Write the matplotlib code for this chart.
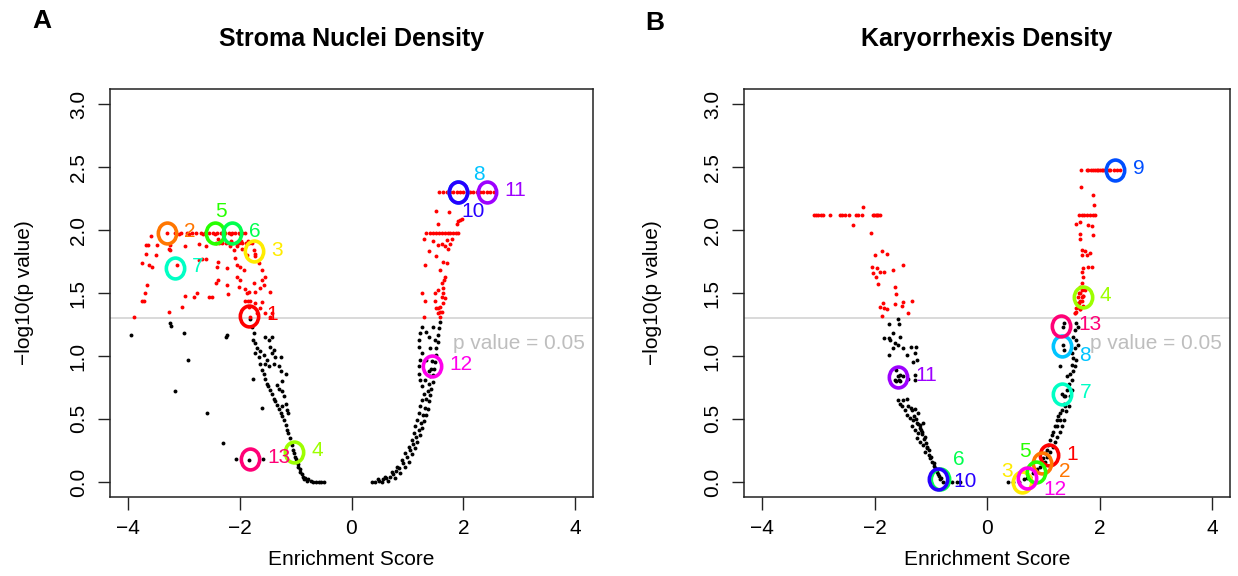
import numpy as np
import matplotlib
matplotlib.use("Agg")
import matplotlib.pyplot as plt
from matplotlib.path import Path
from matplotlib.transforms import Affine2D

plt.rcParams['font.family'] = ['Liberation Sans', 'DejaVu Sans']

# ---------------- DATA (enrichment score, -log10 p) ----------------
# Panel A: Stroma Nuclei Density
A_neg_sig = [(-3.59,1.95),(-3.68,1.88),(-3.64,1.88),(-3.48,1.88),(-3.25,1.88),(-3.67,1.81),(-3.49,1.80),
    (-3.27,1.85),(-3.24,1.84),(-3.74,1.74),(-3.63,1.72),(-3.57,1.71),(-3.12,1.72),(-2.73,1.76),(-2.67,1.77),
    (-2.61,1.77),(-2.38,1.75),(-2.41,1.71),(-2.23,1.70),(-2.08,1.78),(-2.05,1.72),(-1.99,1.71),(-1.66,1.74),
    (-1.60,1.68),(-1.72,1.79),(-1.87,1.80),(-1.93,1.68),(-3.66,1.56),(-3.70,1.50),(-3.75,1.44),(-3.71,1.44),
    (-3.26,1.35),(-3.03,1.39),(-2.97,1.48),(-2.82,1.47),(-2.76,1.50),(-2.55,1.47),(-2.49,1.47),(-2.43,1.58),
    (-2.38,1.60),(-2.21,1.49),(-2.23,1.56),(-2.05,1.63),(-1.99,1.60),(-2.02,1.55),(-1.91,1.53),(-1.87,1.50),
    (-1.84,1.51),(-1.75,1.58),(-1.72,1.51),(-1.63,1.54),(-1.60,1.60),(-1.57,1.56),(-1.54,1.63),(-1.45,1.51),
    (-1.90,1.44),(-1.85,1.44),(-1.81,1.44),(-1.72,1.42),(-1.63,1.38),(-1.60,1.43),(-1.84,1.39),(-1.69,1.34),
    (-1.54,1.34),(-1.45,1.31),(-1.42,1.34),(-3.89,1.31),(-2.17,1.87),(-2.11,1.84),(-2.05,1.87),(-1.96,1.85),
    (-2.38,1.93),(-2.73,1.89),(-2.61,1.87),(-3.09,1.97),(-2.97,1.87),(-3.30,1.98),(-1.74,1.84),(-1.72,1.81),
    (-1.81,1.31),
    (-3.15,1.98),(-3.05,1.98),(-2.95,1.98),(-2.85,1.98),(-2.78,1.98),(-2.70,1.98),(-2.62,1.98),(-2.55,1.98),
    (-2.48,1.98),(-2.40,1.98),(-2.33,1.98),(-2.26,1.98),(-2.20,1.98),(-2.14,1.98),(-2.08,1.98),(-2.02,1.98),
    (-1.96,1.98),(-1.90,1.98),(-2.90,1.97),(-2.65,1.97),(-2.45,1.97),(-2.30,1.97),(-2.15,1.97),(-2.00,1.97),
    (-2.43,1.90),(-2.37,1.90),(-2.31,1.90),(-2.25,1.90),(-2.19,1.90),(-2.13,1.90),(-2.07,1.90),(-2.01,1.90),
    (-1.95,1.90),(-1.89,1.90),(-1.83,1.90),(-1.78,1.90),(-2.34,1.91),(-2.16,1.91),(-1.98,1.91),(-1.86,1.91)]
A_neg_ns = [(-3.95,1.17),(-3.24,1.26),(-3.23,1.24),(-3.00,1.18),(-2.92,0.97),(-3.15,0.72),(-2.59,0.55),
    (-2.30,0.31),(-2.24,1.15),(-2.23,1.17),(-1.77,0.82),(-1.60,0.59),(-2.06,0.18),(-1.84,0.17),(-1.59,0.18),
    (-1.81,1.29),(-1.78,1.23),(-1.75,1.18),(-1.77,1.13),(-1.72,1.10),(-1.69,1.06),(-1.72,1.02),(-1.66,0.99),
    (-1.63,0.94),(-1.60,0.89),(-1.57,0.86),(-1.54,0.82),(-1.51,0.78),(-1.49,0.76),(-1.45,0.73),(-1.42,0.70),
    (-1.39,0.66),(-1.36,0.64),(-1.33,0.61),(-1.30,0.58),(-1.27,0.55),(-1.24,0.52),(-1.21,0.49),(-1.18,0.45),
    (-1.16,0.41),(-1.13,0.39),(-1.10,0.35),(-1.07,0.29),(-1.04,0.25),(-1.01,0.20),(-0.98,0.16),(-0.95,0.12),
    (-0.92,0.08),(-0.89,0.06),(-0.83,0.03),(-0.77,0.02),(-0.68,0.00),(-0.59,0.00),(-0.50,0.00),
    (-1.54,1.15),(-1.48,1.13),(-1.42,1.15),(-1.45,1.07),(-1.39,1.05),(-1.42,1.02),(-1.36,0.99),(-1.27,0.99),
    (-1.39,0.94),(-1.30,0.92),(-1.27,0.88),(-1.18,0.86),(-1.24,0.80),(-1.33,0.77),(-1.30,0.74),(-1.24,0.72),
    (-1.21,0.68),(-1.18,0.62),(-1.16,0.57),(-1.13,0.55),(-1.24,0.60),(-1.48,0.92),(-1.54,0.94),(-1.63,1.04),
    (-1.57,1.01),(-1.51,0.97),(-0.86,0.04),(-0.80,0.01),(-0.72,0.01),(-0.64,0.00),(-0.55,0.00),(-0.85,0.02),
    (-0.93,0.10),(-0.96,0.14),(-0.99,0.18),(-1.03,0.23)]
A_pos_sig = [(1.57,2.30),(1.64,2.30),(1.70,2.30),(1.76,2.30),(1.82,2.30),(1.88,2.30),(1.94,2.30),(2.00,2.30),
    (2.06,2.30),(2.12,2.30),(2.18,2.30),(2.24,2.30),(2.30,2.30),(2.36,2.30),(2.42,2.30),(2.48,2.30),(2.55,2.30),
    (1.52,2.15),(1.74,2.14),(1.54,2.05),(1.91,2.07),(1.94,2.08),(1.97,2.09),(1.88,2.05),
    (1.34,1.98),(1.40,1.98),(1.46,1.98),(1.52,1.98),(1.57,1.98),(1.62,1.98),(1.67,1.98),(1.72,1.98),
    (1.77,1.98),(1.82,1.98),(1.87,1.98),(1.91,1.98),
    (1.30,1.93),(1.38,1.83),(1.46,1.91),(1.55,1.88),(1.61,1.89),(1.67,1.87),(1.70,1.92),(1.73,1.85),
    (1.76,1.89),(1.79,1.93),(1.32,1.72),(1.52,1.79),(1.64,1.75),(1.58,1.68),(1.70,1.74),(1.67,1.63),
    (1.61,1.58),(1.55,1.52),(1.49,1.50),(1.64,1.50),(1.67,1.46),(1.64,1.42),(1.58,1.39),(1.61,1.35),
    (1.55,1.34),(1.58,1.31),(1.29,1.31),(1.26,1.50),(1.32,1.44),(1.49,1.44),(1.52,1.38),(1.61,1.47),
    (1.64,1.54),(1.66,1.60),(1.58,1.35),(1.55,1.38)]
A_pos_ns = [(1.26,1.23),(1.23,1.18),(1.20,1.13),(1.21,1.07),(1.26,1.02),(1.23,0.97),(1.20,0.92),(1.20,0.86),
    (1.23,0.81),(1.26,0.76),(1.29,0.70),(1.26,0.65),(1.23,0.60),(1.20,0.55),(1.17,0.49),(1.14,0.44),
    (1.11,0.39),(1.08,0.33),(1.02,0.28),(0.96,0.23),(0.90,0.17),(0.81,0.12),(0.72,0.08),(0.60,0.04),
    (0.48,0.02),(0.36,0.00),(0.42,0.00),(0.54,0.00),(0.66,0.01),(0.78,0.03),(0.87,0.07),(0.96,0.12),
    (1.02,0.16),(1.08,0.22),(1.14,0.27),(1.18,0.32),(1.23,0.37),(1.27,0.43),(1.30,0.48),(1.33,0.53),
    (1.36,0.58),(1.39,0.64),(1.41,0.69),(1.42,0.74),(1.45,0.79),(1.46,0.85),(1.48,0.90),(1.49,0.95),
    (1.51,1.01),(1.52,1.06),(1.54,1.11),(1.55,1.17),(1.57,1.22),(1.58,1.27),(1.38,1.15),(1.41,1.06),
    (1.34,0.97),(1.38,0.88),(1.32,0.81),(1.34,1.19),(1.46,1.23),(1.49,1.13),
    (0.50,0.01),(0.56,0.02),(0.62,0.03),(0.68,0.04),(0.74,0.06),(0.80,0.09),(0.85,0.11),(0.92,0.15),
    (0.99,0.20),(1.05,0.25),(1.10,0.30),(1.16,0.36),(1.20,0.41),(1.24,0.47),(1.28,0.53),(1.31,0.59),
    (1.34,0.66),(1.36,0.72),(1.38,0.78),(1.40,0.84),(1.42,0.90),(1.44,0.96)]

# Panel B: Karyorrhexis Density
B_neg_sig = [(-3.08,2.12),(-3.04,2.12),(-3.00,2.12),(-2.96,2.12),(-2.91,2.12),(-2.80,2.12),(-2.61,2.12),
    (-2.57,2.12),(-2.53,2.12),(-2.45,2.12),(-2.33,2.12),(-2.29,2.12),(-2.23,2.12),(-2.03,2.12),(-2.01,2.12),
    (-1.97,2.12),(-1.95,2.12),(-1.93,2.12),(-1.90,2.12),
    (-2.20,2.18),(-2.38,2.04),(-2.06,1.98),(-1.86,1.83),(-1.78,1.81),(-1.99,1.80),(-2.04,1.71),(-1.95,1.70),
    (-1.90,1.67),(-2.03,1.66),(-1.83,1.67),(-1.67,1.68),(-1.49,1.72),(-1.98,1.63),(-1.94,1.57),(-1.63,1.55),
    (-1.62,1.49),(-1.49,1.43),(-1.33,1.44),(-1.85,1.42),(-1.91,1.39),(-1.83,1.38),(-1.77,1.37),(-1.64,1.41),
    (-1.51,1.40),(-1.40,1.34),(-1.87,1.32)]
B_neg_ns = [(-1.74,1.25),(-1.58,1.29),(-1.56,1.25),(-1.68,1.18),(-1.83,1.14),(-1.74,1.14),(-1.64,1.10),
    (-1.59,1.09),(-1.72,1.13),(-1.55,1.15),(-1.75,1.01),(-1.67,1.06),(-1.49,1.06),(-1.36,1.07),(-1.26,1.07),
    (-1.28,1.02),(-1.43,1.01),(-1.31,0.95),(-1.25,0.97),(-1.61,0.89),(-1.55,0.85),(-1.64,0.81),(-1.55,0.80),
    (-1.49,0.84),(-1.40,0.82),(-1.28,0.85),(-1.28,0.81),(-1.58,0.65),(-1.55,0.62),(-1.49,0.65),(-1.43,0.66),
    (-1.52,0.60),(-1.46,0.57),(-1.40,0.60),(-1.34,0.57),(-1.28,0.58),(-1.22,0.55),(-1.43,0.53),(-1.37,0.51),
    (-1.31,0.49),(-1.25,0.47),(-1.19,0.45),(-1.13,0.47),(-1.34,0.44),(-1.28,0.41),(-1.22,0.39),(-1.16,0.40),
    (-1.10,0.36),(-1.25,0.35),(-1.19,0.32),(-1.13,0.29),(-1.07,0.28),(-1.10,0.24),(-1.04,0.21),(-1.01,0.19),
    (-0.98,0.16),(-0.95,0.13),(-0.92,0.11),(-0.89,0.08),(-0.87,0.06),(-0.81,0.03),(-0.78,0.00),(-0.72,0.00),
    (-0.63,0.00),(-0.54,0.00),(-0.48,0.00),
    (-1.20,0.43),(-1.15,0.38),(-1.08,0.31),(-1.03,0.25),(-0.99,0.20),(-0.94,0.15),(-0.90,0.10),(-0.86,0.05),
    (-0.84,0.02),(-1.30,0.52),(-1.35,0.59),(-1.27,0.50),(-1.22,0.46),(-1.17,0.41),(-1.12,0.34),(-1.06,0.27),
    (-1.59,0.84),(-1.57,0.81),(-1.61,0.80)]
B_pos_sig = [(1.67,2.48),(1.77,2.48),(1.80,2.48),(1.84,2.48),(1.89,2.48),(1.92,2.48),(1.95,2.48),(1.98,2.48),
    (2.01,2.48),(2.04,2.48),(2.07,2.48),(2.10,2.48),(2.13,2.48),(2.16,2.48),(2.19,2.48),(2.25,2.48),
    (2.31,2.48),(2.36,2.48),
    (1.67,2.34),(1.89,2.28),(1.90,2.20),(1.64,2.12),(1.68,2.12),(1.72,2.12),(1.77,2.12),(1.83,2.12),
    (1.88,2.12),(1.92,2.12),(1.59,2.05),(1.65,2.06),(1.80,2.04),(1.86,2.03),(1.89,1.96),(1.65,1.97),
    (1.65,1.93),(1.68,1.84),(1.74,1.83),(1.77,1.80),(1.83,1.82),(1.68,1.80),(1.80,1.71),(1.86,1.71),
    (1.71,1.70),(1.68,1.67),(1.71,1.63),(1.68,1.58),(1.65,1.55),(1.68,1.52),(1.64,1.50),(1.71,1.48),
    (1.62,1.47),(1.65,1.44),(1.64,1.42),(1.61,1.39),(1.58,1.35),(1.56,1.34),(1.65,1.37),
    (1.56,1.34),(1.59,1.38),(1.65,1.37),(1.62,1.42),(1.68,1.44),(1.71,1.48),(1.74,1.52),(1.65,1.50),
    (1.71,1.40),(1.68,1.47)]
B_pos_ns = [(1.59,1.26),(1.56,1.21),(1.62,1.23),(1.53,1.15),(1.59,1.13),(1.62,1.09),(1.56,1.06),(1.51,1.02),
    (1.53,0.98),(1.59,0.97),(1.56,0.92),(1.51,0.93),(1.48,0.86),(1.42,0.84),(1.53,0.88),(1.30,0.92),
    (1.36,1.26),(1.35,1.23),(1.35,1.09),(1.36,1.05),(1.51,0.81),(1.45,0.78),(1.42,0.73),(1.39,0.68),
    (1.36,0.62),(1.33,0.57),(1.30,0.55),(1.27,0.52),(1.24,0.49),(1.21,0.44),(1.18,0.40),(1.15,0.37),
    (1.12,0.33),(1.09,0.29),(1.06,0.25),(1.03,0.23),(1.00,0.19),(0.97,0.16),(0.94,0.12),(0.88,0.10),
    (0.82,0.07),(0.76,0.04),(0.71,0.03),(0.65,0.02),(0.56,0.00),(0.47,0.00),(0.38,0.00),(1.40,0.56),
    (1.37,0.49),(1.33,0.44),(1.29,0.40),(1.25,0.36),(1.21,0.32),(1.17,0.28),(1.12,0.24),(1.07,0.20),
    (1.03,0.16),(1.45,0.60),(1.39,0.60),(1.30,0.49),(1.24,0.44),(1.48,0.68),(1.51,0.73),(1.33,0.70),
    (1.36,0.68)]

# highlighted gene sets (number, x, y)
A_ids = [1, 2, 3, 4, 5, 6, 7, 8, 10, 11, 12, 13]
A_cx = [-1.84, -3.30, -1.75, -1.02, -2.45, -2.14, -3.16, 1.91, 1.91, 2.43, 1.44, -1.82]
A_cy = [1.32, 1.98, 1.83, 0.24, 1.98, 1.98, 1.70, 2.30, 2.30, 2.30, 0.92, 0.18]
B_ids = [1, 2, 3, 4, 5, 6, 7, 8, 9, 10, 11, 12, 13]
B_cx = [1.10, 0.97, 0.62, 1.70, 0.87, -0.84, 1.34, 1.33, 2.28, -0.88, -1.58, 0.71, 1.32]
B_cy = [0.21, 0.15, 0.00, 1.47, 0.08, 0.02, 0.70, 1.08, 2.48, 0.02, 0.83, 0.03, 1.24]

set_colors = {1: "#FF0000", 2: "#FF7600", 3: "#FFEC00", 4: "#9DFF00", 5: "#27FF00", 6: "#00FF4E",
              7: "#00FFC4", 8: "#00C4FF", 9: "#004EFF", 10: "#2700FF", 11: "#9D00FF", 12: "#FF00EC",
              13: "#FF0076"}

# label placement: (dx pt, dy pt, ha)
A_label_pos = {5: (4.5, 14, 'center'), 8: (15, 11.5, 'center'), 10: (11, -14.5, 'center')}
B_label_pos = {6: (13.5, 13.5, 'center'), 10: (11.5, -2.5, 'left'), 8: (12.5, -8, 'left'), 2: (12.5, -7, 'left'),
               5: (-8, 13.5, 'center'), 3: (-10.5, 6.5, 'center'), 12: (20, -9, 'center')}

titles = ["Stroma Nuclei Density", "Karyorrhexis Density"]
panel_letters = ["A", "B"]
pthresh = 0.05

# ---------------- PLOT ----------------
W, H = 1238, 576
fig = plt.figure(figsize=(W / 100, H / 100), dpi=100)
axA = fig.add_axes([110 / W, (H - 497) / H, 483 / W, 408 / H])
axB = fig.add_axes([744 / W, (H - 497) / H, 486 / W, 408 / H])

ell = Path.unit_circle().transformed(Affine2D().scale(0.88, 1.0))

def draw(ax, groups_sig, groups_ns, ids, cx, cy, lab_pos, title, ylab_x):
    for g in groups_ns:
        a = np.array(g)
        ax.plot(a[:, 0], a[:, 1], 'o', color='black', ms=2.8, mew=0, zorder=2)
    for g in groups_sig:
        a = np.array(g)
        ax.plot(a[:, 0], a[:, 1], 'o', color='red', ms=2.8, mew=0, zorder=2)
    ax.axhline(-np.log10(pthresh), color='#D3D3D3', lw=1.2, zorder=1)
    ax.text(3.0, 1.1, "p value = 0.05", color='#BEBEBE', fontsize=15, ha='center', va='center', zorder=3)
    for i, x, y in zip(ids, cx, cy):
        c = set_colors[i]
        ax.plot([x], [y], marker=ell, ms=15, mfc='none', mec=c, mew=2.6, zorder=4)
    for i, x, y in zip(ids, cx, cy):
        c = set_colors[i]
        dx, dy, ha = lab_pos.get(i, (12.5, 0, 'left'))
        ax.annotate(str(i), (x, y), xytext=(dx, dy + 1), textcoords='offset points',
                    color=c, fontsize=15, ha=ha, va='center', zorder=5)
    ax.set_xlim(-4.32, 4.32)
    ax.set_ylim(-0.12, 3.12)
    ax.set_xticks([-4, -2, 0, 2, 4])
    ax.set_yticks([0.0, 0.5, 1.0, 1.5, 2.0, 2.5, 3.0])
    ax.set_yticklabels(["0.0", "0.5", "1.0", "1.5", "2.0", "2.5", "3.0"])
    ax.tick_params(axis='both', direction='out', length=9, width=1.0, labelsize=15, color='#222222')
    ax.tick_params(axis='x', pad=7)
    ax.tick_params(axis='y', pad=7)
    for lab in ax.get_yticklabels():
        lab.set_rotation(90)
        lab.set_va('center')
    for s in ax.spines.values():
        s.set_linewidth(1.1)
        s.set_color('#222222')
    ax.set_xlabel("Enrichment Score", fontsize=15, va='center')
    ax.xaxis.set_label_coords(0.5, -0.154)
    ax.set_ylabel("\u2212log10(p value)", fontsize=15, va='center')
    ax.yaxis.set_label_coords(ylab_x, 0.5)
    ax.text(0.5, 1.122, title, transform=ax.transAxes, ha='center', va='center',
            fontsize=18, fontweight='bold')

draw(axA, [A_neg_sig, A_pos_sig], [A_neg_ns, A_pos_ns], A_ids, A_cx, A_cy, A_label_pos, titles[0],
     (25 - 110) / 483)
draw(axB, [B_neg_sig, B_pos_sig], [B_neg_ns, B_pos_ns], B_ids, B_cx, B_cy, B_label_pos, titles[1],
     (652 - 744) / 486)

fig.text(42 / W, 1 - 21 / H, panel_letters[0], fontsize=19, fontweight='bold', ha='center', va='center')
fig.text(655 / W, 1 - 23 / H, panel_letters[1], fontsize=19, fontweight='bold', ha='center', va='center')

fig.savefig("out.png", dpi=100)
